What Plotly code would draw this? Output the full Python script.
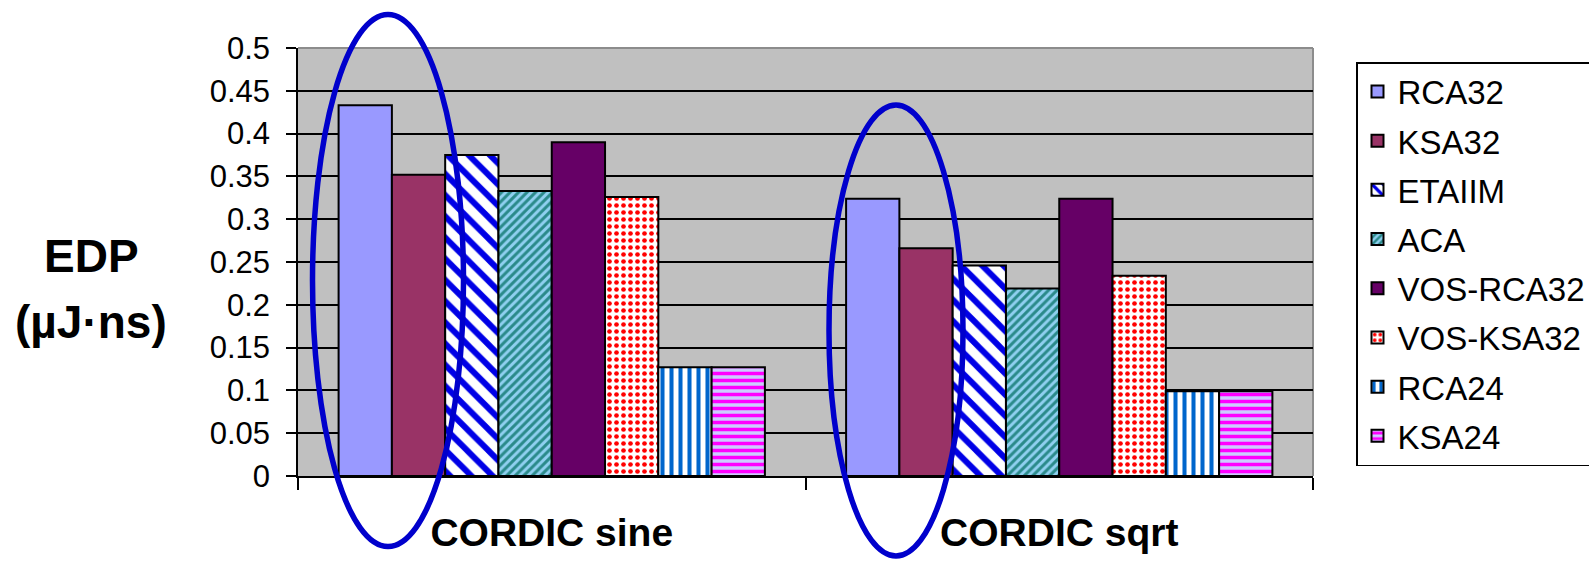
import plotly.graph_objects as go

categories = ["CORDIC sine", "CORDIC sqrt"]
series_names = ["RCA32", "KSA32", "ETAIIM", "ACA", "VOS-RCA32", "VOS-KSA32", "RCA24", "KSA24"]
rca32 = [0.433, 0.324]
ksa32 = [0.352, 0.266]
etaiim = [0.375, 0.246]
aca = [0.333, 0.219]
vos_rca32 = [0.390, 0.324]
vos_ksa32 = [0.326, 0.234]
rca24 = [0.127, 0.099]
ksa24 = [0.127, 0.099]
values = [rca32, ksa32, etaiim, aca, vos_rca32, vos_ksa32, rca24, ksa24]

styles = [
    dict(color="#9999FF"),
    dict(color="#993366"),
    dict(color="#FFFFFF", pattern=dict(shape="\\", fgcolor="#0000E6", bgcolor="#FFFFFF", size=15, solidity=0.4, fillmode="replace")),
    dict(color="#8FD0F0", pattern=dict(shape="/", fgcolor="#2A8A8A", bgcolor="#8FD0F0", size=6, solidity=0.5, fillmode="replace")),
    dict(color="#660066"),
    dict(color="#FFFFFF", pattern=dict(shape=".", fgcolor="#FF0000", bgcolor="#FFFFFF", size=7, solidity=0.35, fillmode="replace")),
    dict(color="#FFFFFF", pattern=dict(shape="|", fgcolor="#0066CC", bgcolor="#FFFFFF", size=9, solidity=0.45, fillmode="replace")),
    dict(color="#CCCCFF", pattern=dict(shape="-", fgcolor="#FF00FF", bgcolor="#CCCCFF", size=7, solidity=0.5, fillmode="replace")),
]

FONT = "Liberation Sans, Arial, sans-serif"

fig = go.Figure()
for name, vals, st in zip(series_names, values, styles):
    marker = dict(line=dict(color="black", width=2), **st)
    fig.add_trace(go.Bar(name=name, x=categories, y=vals, marker=marker, legendgroup=name))

W, H = 1589, 563
L, R, T, B = 298, 276, 48, 87
pw, ph = W - L - R, H - T - B

def px(x):
    return (x - L) / pw

def py(y):
    return (H - B - y) / ph

shapes = [
    dict(type="line", xref="paper", yref="paper", x0=0, x1=1, y0=1, y1=1, line=dict(color="#8C8C8C", width=2), layer="below"),
    dict(type="line", xref="paper", yref="paper", x0=1, x1=1, y0=0, y1=1, line=dict(color="#8C8C8C", width=2), layer="below"),
    dict(type="circle", xref="paper", yref="paper", x0=px(312.5), x1=px(463.5), y0=py(546.5), y1=py(14.5),
         line=dict(color="#0000CC", width=5.5), layer="above"),
    dict(type="circle", xref="paper", yref="paper", x0=px(829), x1=px(963), y0=py(556), y1=py(105),
         line=dict(color="#0000CC", width=5.5), layer="above"),
]

annotations = [
    dict(text="<b>EDP</b>", xref="paper", yref="paper", x=px(91), y=py(256), showarrow=False,
         font=dict(family=FONT, size=46, color="black"), xanchor="center", yanchor="middle"),
    dict(text="<b>(µJ·ns)</b>", xref="paper", yref="paper", x=px(91), y=py(322), showarrow=False,
         font=dict(family=FONT, size=46, color="black"), xanchor="center", yanchor="middle"),
]

fig.update_layout(
    width=W, height=H,
    margin=dict(l=L, r=R, t=T, b=B, autoexpand=False),
    paper_bgcolor="white",
    plot_bgcolor="#C0C0C0",
    barmode="group",
    bargap=0.16,
    bargroupgap=0,
    font=dict(family=FONT, color="black"),
    showlegend=True,
    legend=dict(
        x=px(1356), y=py(62), xanchor="left", yanchor="top",
        bordercolor="black", borderwidth=1.5, bgcolor="white",
        font=dict(family=FONT, size=33, color="black"),
        tracegroupgap=3.3, traceorder="grouped",
    ),
    shapes=shapes,
    annotations=annotations,
    xaxis=dict(
        showline=True, linecolor="black", linewidth=1.5,
        ticks="outside", tickson="boundaries", ticklen=12, tickwidth=1.5, tickcolor="black",
        tickfont=dict(family=FONT, size=39, color="black"),
        tickprefix="<b>", ticksuffix="</b>",
        ticklabelstandoff=21,
        showgrid=False,
    ),
    yaxis=dict(
        range=[0, 0.5], dtick=0.05, tick0=0,
        showline=True, linecolor="black", linewidth=1.5,
        ticks="outside", ticklen=10, tickwidth=1.5, tickcolor="black",
        tickfont=dict(family=FONT, size=31, color="black"),
        showgrid=True, gridcolor="black", gridwidth=2,
        zeroline=False,
        ticklabelstandoff=10,
    ),
)

fig.write_html("out.html")
